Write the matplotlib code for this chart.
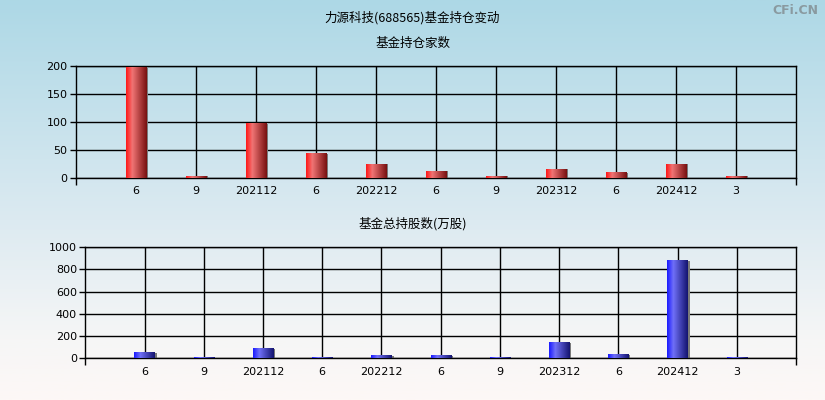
import matplotlib
matplotlib.use("Agg")
import matplotlib.pyplot as plt
import numpy as np
from matplotlib.colors import LinearSegmentedColormap

plt.rcParams['font.family'] = ['DejaVu Sans']
CJK = ['Noto Sans CJK SC', 'DejaVu Sans']

categories = ["6", "9", "202112", "6", "202212", "6", "9", "202312", "6", "202412", "3"]
fund_count = [197, 3, 97, 43, 25, 12, 3, 16, 9, 25, 3]
fund_shares = [50, 8, 85, 8, 20, 18, 7, 138, 30, 877, 8]

title_main = "力源科技(688565)基金持仓变动"
title_top = "基金持仓家数"
title_bottom = "基金总持股数(万股)"

fig = plt.figure(figsize=(8.25, 4.0), dpi=100)

# background gradient
bg = fig.add_axes([0, 0, 1, 1], zorder=-10)
bg_cmap = LinearSegmentedColormap.from_list(
    "bg", [(0.0, "#add8e6"), (0.55, "#dceaf1"), (0.85, "#f6f6f6"), (1.0, "#fdf8f6")])
grad = np.linspace(0, 1, 256).reshape(-1, 1)
bg.imshow(grad, aspect='auto', cmap=bg_cmap, extent=(0, 1, 0, 1), origin='upper')
bg.set_axis_off()

red_cmap = LinearSegmentedColormap.from_list(
    "r", [(0.0, "#ff1818"), (0.3, "#f07474"), (1.0, "#781010")])
blue_cmap = LinearSegmentedColormap.from_list(
    "b", [(0.0, "#1a1aff"), (0.3, "#7070f8"), (1.0, "#141470")])


def draw_panel(ax, values, cmap, ymax, ystep, width):
    x = np.arange(1, len(values) + 1)
    ax.set_facecolor('none')
    ax.set_xlim(0, len(values) + 1)
    ax.set_ylim(0, ymax)
    hgrad = np.linspace(0, 1, 64).reshape(1, -1)
    # shadow
    ax.bar(x + 0.035, values, width=width, color="#7a7a7a", zorder=2, linewidth=0)
    for xi, v in zip(x, values):
        ax.imshow(hgrad, cmap=cmap, aspect='auto',
                  extent=(xi - width / 2, xi + width / 2, 0, v), zorder=3)
    ax.set_xlim(0, len(values) + 1)
    ax.set_ylim(0, ymax)
    ax.set_xticks(x)
    ax.set_xticklabels(categories, fontsize=8)
    ax.tick_params(axis='x', length=0, pad=6)
    ax.set_xticks([0, len(values) + 1], minor=True)
    ax.tick_params(axis='x', which='minor', length=5, width=1, direction='out')
    ax.set_yticks(np.arange(0, ymax + 1, ystep))
    ax.tick_params(axis='y', length=4, width=1, labelsize=8, pad=2)
    ax.grid(True, color='black', linewidth=1, zorder=1)
    ax.set_axisbelow(True)
    for s in ax.spines.values():
        s.set_color('black')
        s.set_linewidth(1)


ax1 = fig.add_axes([0.0921, 0.555, 0.8727, 0.280])
draw_panel(ax1, fund_count, red_cmap, 200, 50, 0.34)

ax2 = fig.add_axes([0.1034, 0.104, 0.8614, 0.278])
draw_panel(ax2, fund_shares, blue_cmap, 1000, 200, 0.34)

fig.text(0.5, 1 - 18 / 400, title_main, ha='center', va='center', fontsize=9, family=CJK)
fig.text(0.5, 1 - 43 / 400, title_top, ha='center', va='center', fontsize=9, family=CJK)
fig.text(0.5, 1 - 224 / 400, title_bottom, ha='center', va='center', fontsize=9, family=CJK)
fig.text(0.992, 1 - 10 / 400, "CFi.CN", ha='right', va='center', fontsize=9,
         color='#8a9aa0', fontweight='bold')

fig.savefig("out.png", dpi=100)
